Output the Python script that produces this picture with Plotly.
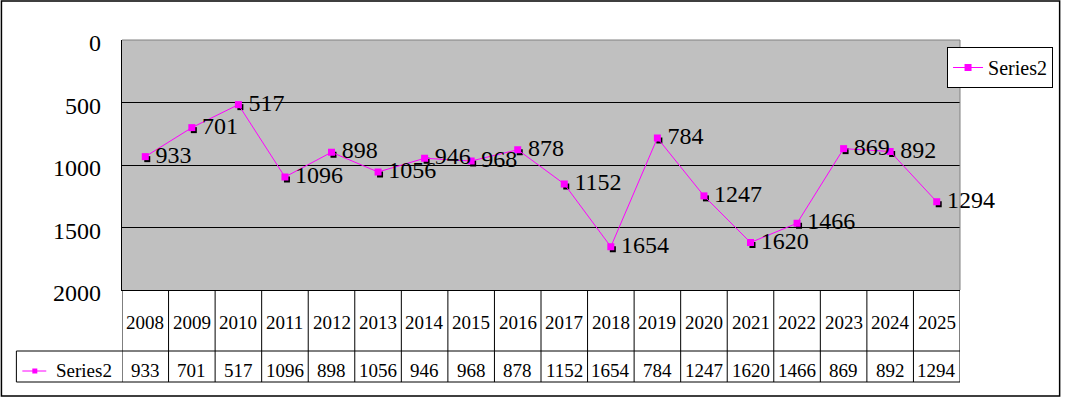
import plotly.graph_objects as go

years = ["2008", "2009", "2010", "2011", "2012", "2013", "2014", "2015", "2016",
         "2017", "2018", "2019", "2020", "2021", "2022", "2023", "2024", "2025"]
values = [933, 701, 517, 1096, 898, 1056, 946, 968, 878,
          1152, 1654, 784, 1247, 1620, 1466, 869, 892, 1294]
y_ticks = [0, 500, 1000, 1500, 2000]
series_name = "Series2"

W, H = 1065, 398
L, R, T, B = 122, 963, 40, 290   # plot area in pixels
PW, PH = R - L, B - T
FONT = "Liberation Serif"
MAG = "#FF00FF"

def px(x):
    return (x - L) / PW

def py(y):
    return (B - y) / PH

n = len(years)
dx = 2 * n / PW          # 2 px in category units
dy = 2.5 * 2000 / PH     # 2.5 px in value units

fig = go.Figure()
# shadow markers (black, offset down-right via shifted overlay axes)
fig.add_trace(go.Scatter(x=years, y=values, mode="markers", xaxis="x2", yaxis="y2",
                         marker=dict(symbol="square", size=6, color="black"),
                         showlegend=False, hoverinfo="skip"))
# main series on an unshifted overlay drawn above the shadow
fig.add_trace(go.Scatter(x=years, y=values, mode="lines+markers+text", name=series_name,
                         xaxis="x3", yaxis="y3",
                         text=["\u2009" + str(v) for v in values], textposition="middle right",
                         textfont=dict(family=FONT, size=24, color="black"),
                         line=dict(color=MAG, width=1),
                         marker=dict(symbol="square", size=7, color=MAG),
                         cliponaxis=False))

shapes = []
# outer border
shapes.append(dict(type="rect", xref="paper", yref="paper", x0=px(1), x1=px(1063),
                   y0=py(396), y1=py(1), line=dict(color="black", width=1.5)))
# top and right plot border (gray)
shapes.append(dict(type="line", xref="paper", yref="paper", x0=0, x1=1, y0=1, y1=1,
                   line=dict(color="#808080", width=1)))
shapes.append(dict(type="line", xref="paper", yref="paper", x0=1, x1=1, y0=0, y1=1,
                   line=dict(color="#808080", width=1)))
# table vertical lines
for k in range(n + 1):
    shapes.append(dict(type="line", xref="x", yref="paper", x0=k - 0.5, x1=k - 0.5,
                       y0=py(290), y1=py(382), line=dict(color="black", width=1)))
# table horizontal lines
for yy in (351, 382):
    shapes.append(dict(type="line", xref="paper", yref="paper", x0=px(16), x1=1,
                       y0=py(yy), y1=py(yy), line=dict(color="black", width=1)))
shapes.append(dict(type="line", xref="paper", yref="paper", x0=px(16), x1=px(16),
                   y0=py(351), y1=py(382), line=dict(color="black", width=1)))
# legend key inside table
shapes.append(dict(type="line", xref="paper", yref="paper", x0=px(22), x1=px(46),
                   y0=py(371), y1=py(371), line=dict(color=MAG, width=1)))
shapes.append(dict(type="rect", xref="paper", yref="paper", x0=px(32), x1=px(37),
                   y0=py(373.5), y1=py(368.5), fillcolor=MAG, line=dict(width=0)))

annotations = []
for t in y_ticks:
    annotations.append(dict(x=px(103), y=t, xref="paper", yref="y", text=str(t),
                            showarrow=False, xanchor="right", yanchor="middle", yshift=-3,
                            font=dict(family=FONT, size=24, color="black")))
for i, (yr, v) in enumerate(zip(years, values)):
    annotations.append(dict(x=i, y=py(322), xref="x", yref="paper", text=yr,
                            showarrow=False, xanchor="center", yanchor="middle",
                            font=dict(family=FONT, size=19, color="black")))
    annotations.append(dict(x=i, y=py(370), xref="x", yref="paper", text=str(v),
                            showarrow=False, xanchor="center", yanchor="middle",
                            font=dict(family=FONT, size=19, color="black")))
annotations.append(dict(x=px(84), y=py(370), xref="paper", yref="paper", text=series_name,
                        showarrow=False, xanchor="center", yanchor="middle",
                        font=dict(family=FONT, size=19, color="black")))

fig.update_layout(
    width=W, height=H,
    margin=dict(l=L, r=W - R, t=T, b=H - B),
    paper_bgcolor="white", plot_bgcolor="#C0C0C0",
    font=dict(family=FONT, color="black"),
    xaxis=dict(type="category", categoryarray=years, range=[-0.5, n - 0.5],
               showticklabels=False, showgrid=False, zeroline=False, showline=True,
               linecolor="black", linewidth=1, mirror=False, ticks=""),
    yaxis=dict(range=[2000, 0], tickvals=y_ticks, showticklabels=False,
               showgrid=True, gridcolor="black", gridwidth=1, zeroline=False,
               showline=True, linecolor="black", linewidth=1, mirror=False, ticks=""),
    xaxis2=dict(type="category", overlaying="x", range=[-0.5 - dx, n - 0.5 - dx],
                visible=False),
    yaxis2=dict(overlaying="y", range=[2000 - dy, 0 - dy], visible=False),
    xaxis3=dict(type="category", overlaying="x", range=[-0.5, n - 0.5], visible=False),
    yaxis3=dict(overlaying="y", range=[2000, 0], visible=False),
    legend=dict(x=px(950), y=py(47), xanchor="left", yanchor="top",
                bordercolor="black", borderwidth=1, bgcolor="white",
                font=dict(family=FONT, size=20, color="black")),
    shapes=shapes, annotations=annotations,
)

fig.write_html("out.html", config={"displayModeBar": False},
               post_script="document.body.style.margin='0';")
